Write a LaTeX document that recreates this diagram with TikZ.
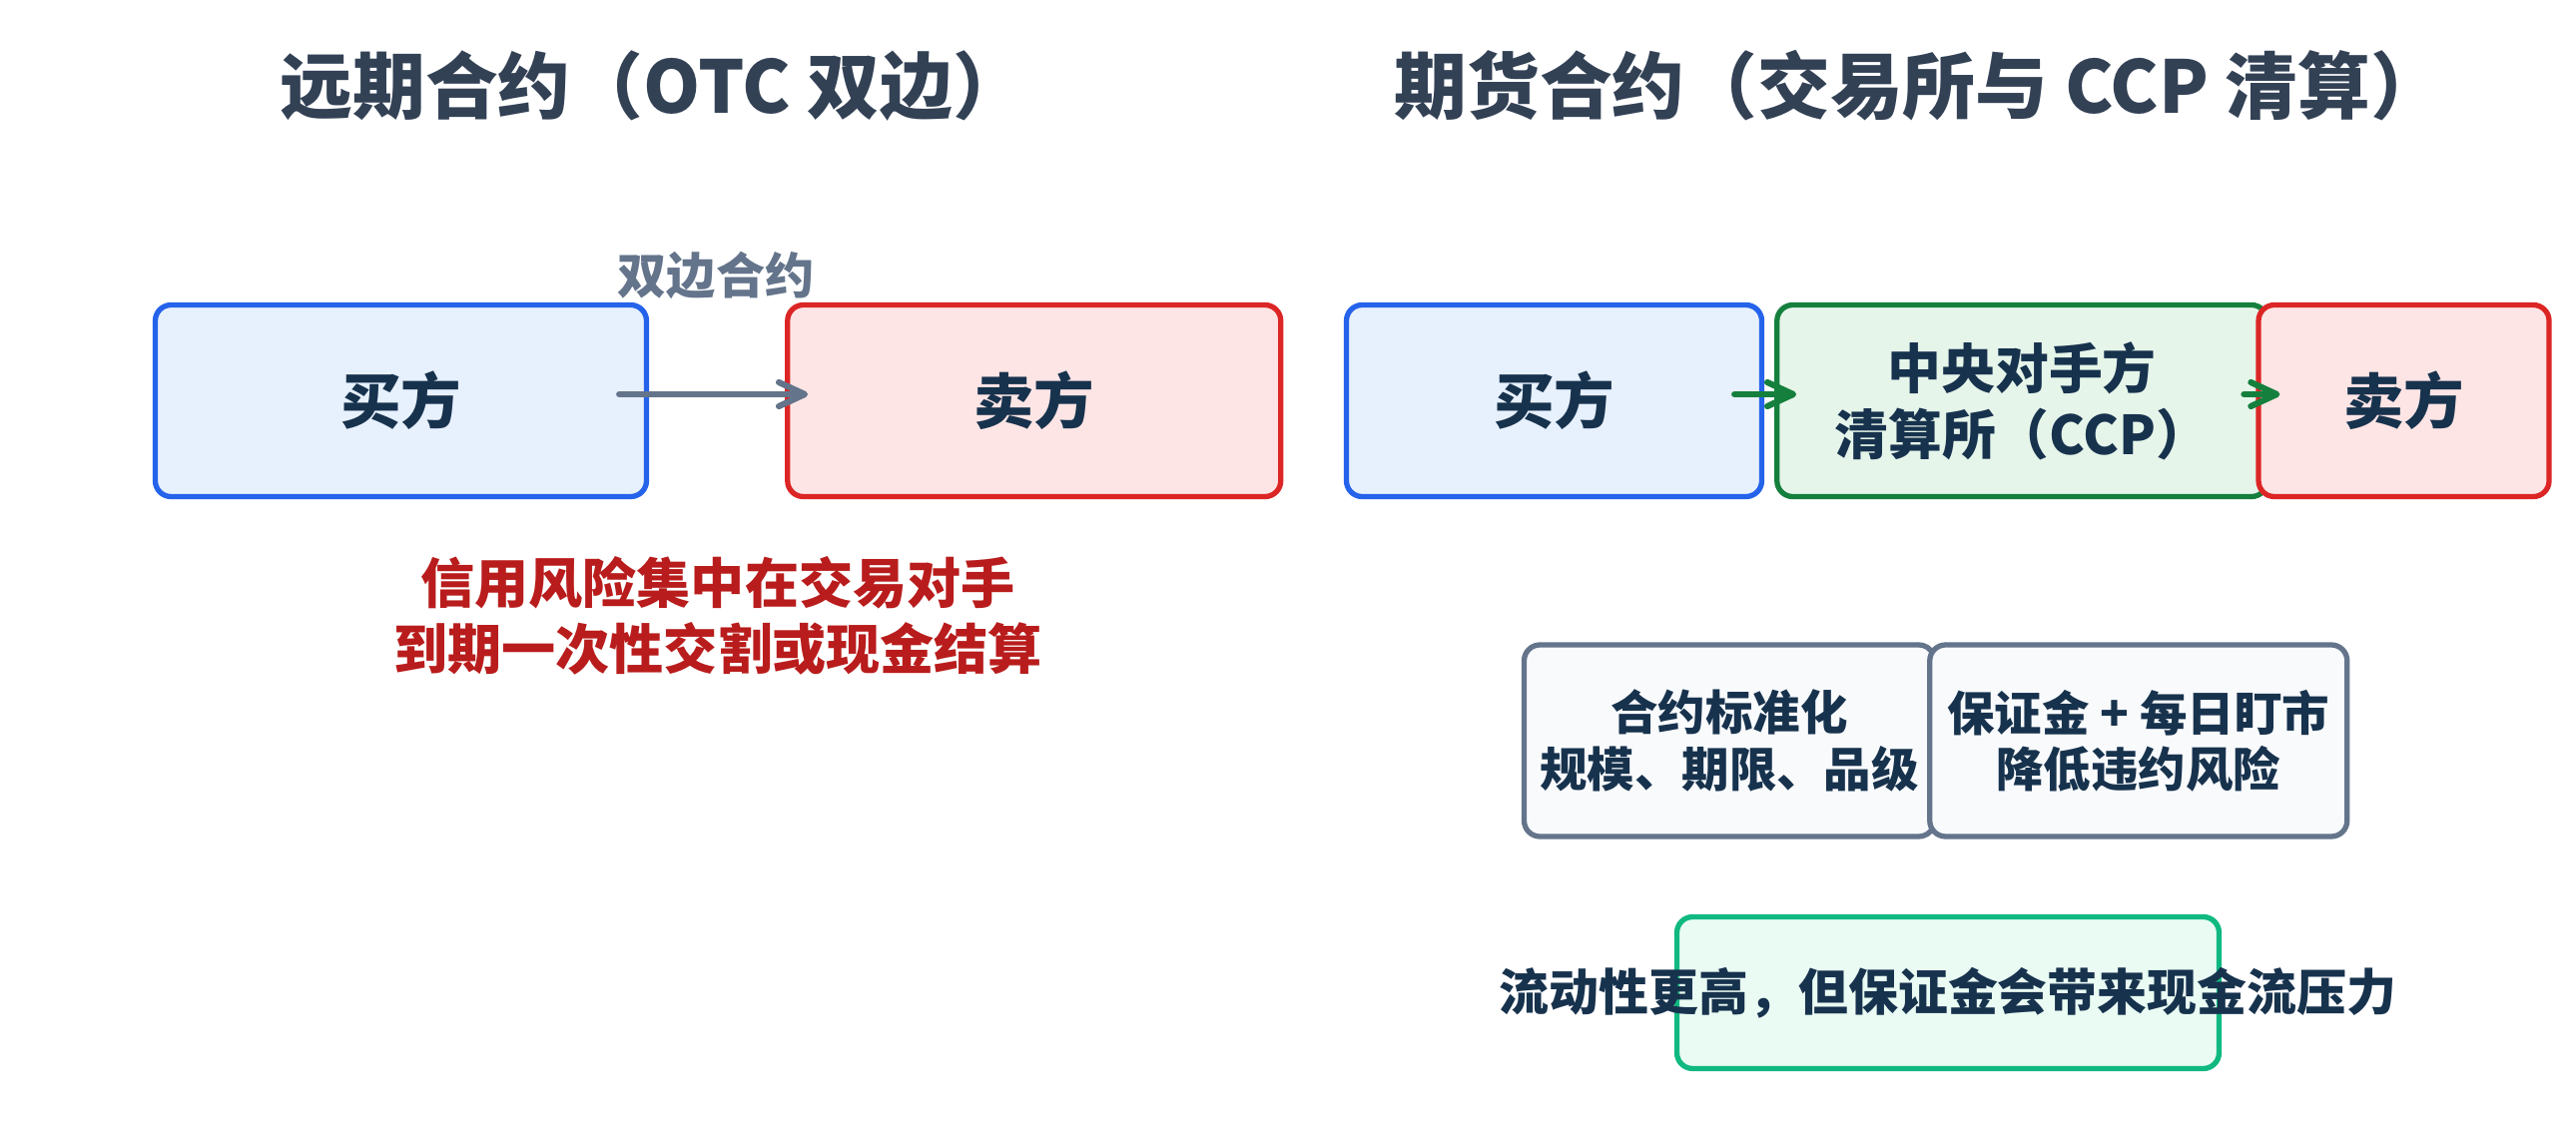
\documentclass[tikz,border=0pt]{standalone}
\usepackage{fontspec}
\setmainfont{Noto Sans CJK SC}
\usetikzlibrary{arrows.meta,positioning}
\definecolor{titlec}{HTML}{334155}
\definecolor{navy}{HTML}{17324D}
\definecolor{slategrey}{HTML}{64748B}
\definecolor{riskred}{HTML}{B91C1C}
\definecolor{buyline}{HTML}{2563EB}
\definecolor{buyfill}{HTML}{E7F0FD}
\definecolor{sellline}{HTML}{DC2626}
\definecolor{sellfill}{HTML}{FEE5E5}
\definecolor{ccpline}{HTML}{15803D}
\definecolor{ccpfill}{HTML}{E6F5EA}
\definecolor{notefill}{HTML}{F8FAFC}
\definecolor{liqline}{HTML}{10B981}
\definecolor{liqfill}{HTML}{EAFBF3}

\begin{document}
\begin{tikzpicture}[
    x=0.1mm, y=-0.1mm,
    >={Straight Barb[length=2.6mm,width=2.4mm,round]},
    box/.style={draw, rounded corners=4.5pt, line width=1.5pt, align=center, text=navy, inner sep=0pt, minimum height=19.2mm},
    party/.style={box, font=\fontsize{17.2}{20}\selectfont\bfseries},
    buyer/.style={party, fill=buyfill, draw=buyline},
    seller/.style={party, fill=sellfill, draw=sellline},
    ccp/.style={box, fill=ccpfill, draw=ccpline, font=\fontsize{15.3}{18.8}\selectfont\bfseries},
    note/.style={box, fill=notefill, draw=slategrey, font=\fontsize{13.5}{16}\selectfont\bfseries},
    title/.style={anchor=west, inner sep=0pt, text=titlec, font=\fontsize{20.7}{24}\selectfont\bfseries},
    link/.style={->, line width=1.75pt, line cap=round}
]
\useasboundingbox (0,0) rectangle (2580,1125);

% titles
\node[title] (tfwd) at (280,86) {远期合约（OTC 双边）};
\node[title] (tfut) at (1396,86) {期货合约（交易所与 CCP 清算）};

% forward: OTC
\node[buyer, minimum width=49.2mm] (buyL) at (401.5,401.5) {买方};
\node[seller, minimum width=49.4mm, right=13.6mm of buyL] (sellL) {卖方};
\draw[link, draw=slategrey] ([xshift=-3mm,yshift=0.65mm]buyL.east) -- ([xshift=2.3mm,yshift=0.65mm]sellL.west);
\node[text=slategrey, font=\fontsize{14}{16}\selectfont\bfseries] (bilat) at (717,276) {双边合约};
\node[align=center, text=riskred, font=\fontsize{15.4}{18.8}\selectfont\bfseries] (risk) at (719,617) {信用风险集中在交易对手\\到期一次性交割或现金结算};

% futures: exchange + CCP
\node[buyer, minimum width=41.6mm] (buyR) at (1556.5,401.5) {买方};
\node[ccp, minimum width=49.1mm, right=1mm of buyR] (clear) {中央对手方\\清算所（CCP）};
\node[seller, minimum width=29.1mm, right=-1.4mm of clear] (sellR) {卖方};
\draw[link, draw=ccpline] ([xshift=-3mm,yshift=0.65mm]buyR.east) -- ([xshift=2.2mm,yshift=0.65mm]clear.west);
\draw[link, draw=ccpline] ([xshift=-2.6mm,yshift=0.65mm]clear.east) -- ([xshift=2.4mm,yshift=0.65mm]sellR.west);

\node[note, minimum width=41.1mm] (std) at (1732,742) {合约标准化\\规模、期限、品级};
\node[note, minimum width=41.8mm, right=-1mm of std] (mgn) {保证金 + 每日盯市\\降低违约风险};

\node[box, fill=liqfill, draw=liqline, minimum width=54.3mm, minimum height=15.2mm] (liq) at (1951,994.5) {};
\node[text=navy, font=\fontsize{14.2}{16}\selectfont\bfseries] (liqtxt) at (liq.center) {流动性更高，但保证金会带来现金流压力};
\end{tikzpicture}
\end{document}
